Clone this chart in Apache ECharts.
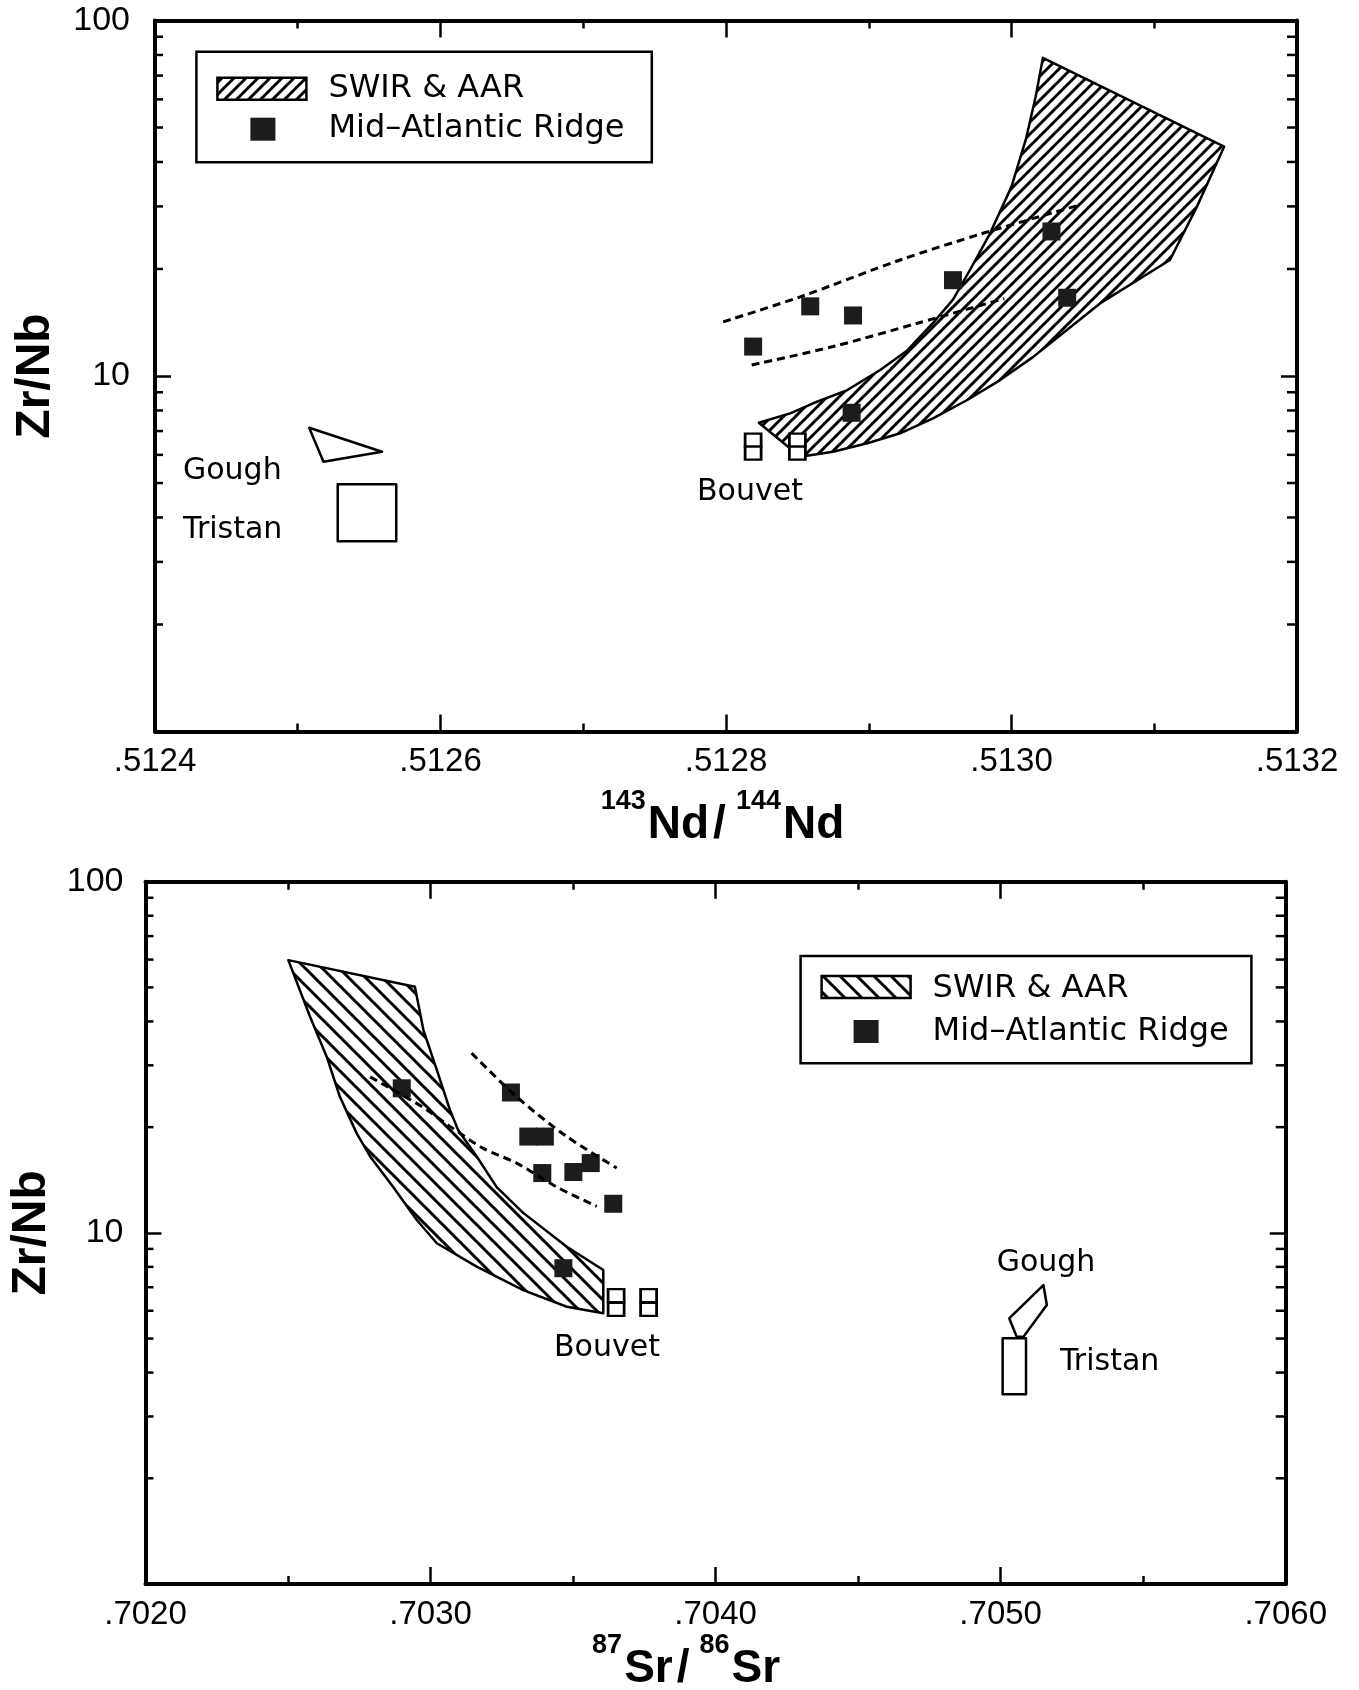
<!DOCTYPE html>
<html>
<head>
<meta charset="utf-8">
<title>Zr/Nb</title>
<script src="https://cdn.jsdelivr.net/npm/echarts/dist/echarts.min.js"></script>
<style>
	html, body { margin: 0; padding: 0; background: #fff; }
	#chart { width: 1359px; height: 1690px; }
</style>
</head>
<body>
<div id="chart"></div>
<script>
// 143Nd/144Nd panel
var ndSwirAar = [
	[.513022, 78.5], [.513017, 61.2], [.513010, 46.2], [.513000, 34.1], [.512985, 25.2], [.512971, 19.9],
	[.512959, 16.4], [.512945, 14.1], [.512927, 11.8], [.512908, 10.4], [.512885, 9.13], [.512861, 8.38],
	[.512845, 7.85], [.512823, 7.39], [.512852, 5.93], [.512875, 6.12], [.512899, 6.47], [.512922, 6.90],
	[.512945, 7.60], [.512969, 8.56], [.512992, 9.74], [.513015, 11.3], [.513039, 13.5], [.513062, 16.0],
	[.513111, 21.2], [.513130, 30.0], [.513149, 44.2]
];
var ndMar = [[.512819, 12.1], [.512859, 15.7], [.512889, 14.8], [.512959, 18.6], [.513028, 25.5], [.513039, 16.6], [.512888, 7.88]];
var ndBouvet = [[.512819, 6.6], [.512819, 6.07], [.512850, 6.6], [.512850, 6.07]];
var ndDashUpper = [[.512798, 14.2], [.512852, 16.7], [.512922, 21.2], [.512980, 25.2], [.513048, 30.3]];
var ndDashLower = [[.512818, 10.74], [.512875, 12.1], [.512934, 14.07], [.512995, 16.5]];
var ndGough = [[.512508, 7.15], [.512559, 6.12], [.512518, 5.74]];
var ndTristan = [[.512528, 4.96], [.512569, 4.96], [.512569, 3.43], [.512528, 3.43]];
var ndLabels = [
	["Gough", .5124196, 5.40],
	["Tristan", .5124196, 3.69],
	["Bouvet", .5127797, 4.72]
];

// 87Sr/86Sr panel
var srSwirAar = [
	[.702501, 59.8], [.702945, 50.2], [.702975, 37.8], [.703022, 29.1], [.703068, 22.4], [.703097, 19.6],
	[.703162, 16.5], [.703232, 13.5], [.703325, 11.4], [.703478, 9.13], [.703606, 7.84], [.703606, 5.90],
	[.703478, 6.16], [.703325, 6.87], [.703162, 8.01], [.703022, 9.34], [.702951, 10.9], [.702869, 13.5],
	[.702788, 16.5], [.702741, 19.2], [.702682, 24.4], [.702636, 31.7], [.702577, 41.3]
];
var srMar = [[.702899, 25.8], [.703282, 25.1], [.703343, 18.8], [.703401, 18.8], [.703392, 14.8], [.703501, 14.9], [.703562, 15.8], [.703641, 12.1], [.703466, 7.93]];
var srBouvet = [[.703651, 6.63], [.703651, 6.05], [.703765, 6.63], [.703765, 6.05]];
var srDashUpper = [[.703144, 32.5], [.703302, 24.4], [.703478, 18.8], [.703653, 15.3]];
var srDashLower = [[.702788, 27.8], [.702969, 22.9], [.703068, 20.1], [.703185, 17.4], [.703302, 15.8], [.703443, 13.5], [.703583, 11.9]];
var srGough = [[.705150, 7.10], [.705162, 6.23], [.705080, 5.06], [.705056, 5.07], [.705030, 5.71]];
var srTristan = [[.705007, 5.01], [.705089, 5.01], [.705089, 3.47], [.705007, 3.47]];
var srLabels = [
	["Bouvet", .703433, 4.70],
	["Gough", .704986, 8.21],
	["Tristan", .705208, 4.29]
];

var ndRange = [.5124, .5132, .0002];
var srRange = [.7020, .7060, .0010];
var logMinor = [2, 3, 4, 5, 6, 7, 8, 9, 20, 30, 40, 50, 60, 70, 80, 90];
var legendNames = ["SWIR & AAR", "Mid\u2013Atlantic Ridge"];

window.onload = function () {

	var font = "Liberation Sans, Arial, Helvetica, sans-serif";
	var textFont = "DejaVu Sans, Liberation Sans, sans-serif";

	function hatch(period, dir, lw) {
		var c = document.createElement("canvas");
		c.width = period;
		c.height = period;
		var ctx = c.getContext("2d");
		ctx.strokeStyle = "#000";
		ctx.lineWidth = lw;
		ctx.beginPath();
		if (dir > 0) {
			ctx.moveTo(-2, period + 2); ctx.lineTo(period + 2, -2);
			ctx.moveTo(-2, 2); ctx.lineTo(2, -2);
			ctx.moveTo(period - 2, period + 2); ctx.lineTo(period + 2, period - 2);
		} else {
			ctx.moveTo(-2, -2); ctx.lineTo(period + 2, period + 2);
			ctx.moveTo(period - 2, -2); ctx.lineTo(period + 2, 2);
			ctx.moveTo(-2, period - 2); ctx.lineTo(2, period + 2);
		}
		ctx.stroke();
		return { image: c, repeat: "repeat" };
	}
	var hatchUp = hatch(12, 1, 3);
	var hatchDown = hatch(17, -1, 3);

	function fmtX(v) {
		return v.toFixed(4).replace(/^0/, "");
	}
	function fmtY(v) {
		var r = Math.round(v);
		return r == 1 ? "" : String(r);
	}

	var line = { color: "#000", width: 4 };

	function xAxis(grid, range, pos, name, gap, pad) {
		var a = {
			gridIndex: grid, type: "value", position: pos,
			min: range[0], max: range[1], interval: range[2],
			axisLine: { show: true, onZero: false, lineStyle: line },
			axisTick: { show: true, inside: true, length: 17, lineStyle: { color: "#000", width: 2.5 } },
			minorTick: { show: true, splitNumber: 2, length: 8, lineStyle: { color: "#000", width: 2.5 } },
			splitLine: { show: false },
			minorSplitLine: { show: false },
			axisLabel: { show: pos == "bottom", margin: 14, fontSize: 33, color: "#000", fontFamily: font, formatter: fmtX }
		};
		if (name) {
			a.name = name;
			a.nameLocation = "middle";
			a.nameGap = gap;
			a.nameTextStyle = {
				color: "#000", fontFamily: font, padding: pad,
				rich: {
					main: { fontSize: 46, fontWeight: "bold", lineHeight: 60, verticalAlign: "bottom", color: "#000", fontFamily: font },
					sl: { fontSize: 46, fontWeight: "bold", lineHeight: 60, verticalAlign: "bottom", color: "#000", fontFamily: font, padding: [0, 10, 0, 4] },
					sup: { fontSize: 27, fontWeight: "bold", lineHeight: 26, verticalAlign: "top", color: "#000", fontFamily: font, padding: [0, 2, 0, 0] }
				}
			};
		}
		return a;
	}

	function yAxis(grid, pos, margin, gap) {
		var a = {
			gridIndex: grid, type: "log", logBase: 10, min: 1, max: 100, position: pos,
			axisLine: { show: true, onZero: false, lineStyle: line },
			axisTick: { show: true, inside: true, length: 16, lineStyle: { color: "#000", width: 2.5 } },
			splitLine: { show: false },
			axisLabel: { show: pos == "left", margin: margin, fontSize: 34, color: "#000", fontFamily: font, formatter: fmtY }
		};
		if (pos == "left") {
			a.name = "Zr/Nb";
			a.nameLocation = "middle";
			a.nameGap = gap;
			a.nameTextStyle = { fontSize: 48, fontWeight: "bold", color: "#000", fontFamily: font };
		}
		return a;
	}

	function polygon(xi, pts, fill) {
		return {
			type: "custom", xAxisIndex: xi, yAxisIndex: xi, silent: true, clip: false,
			data: pts, encode: { x: 0, y: 1 },
			renderItem: function (params, api) {
				if (params.dataIndex !== 0) return;
				var points = pts.map(function (p) { return api.coord(p); });
				return {
					type: "polygon", shape: { points: points },
					style: { fill: fill, stroke: "#000", lineWidth: 2.5, lineJoin: "round" }
				};
			}
		};
	}

	function minorTicks(xi, xmin) {
		return {
			type: "custom", xAxisIndex: xi, yAxisIndex: xi, silent: true, clip: false,
			data: logMinor.map(function (v) { return [xmin, v]; }),
			encode: { x: 0, y: 1 },
			renderItem: function (params, api) {
				var p = api.coord([api.value(0), api.value(1)]);
				var cs = params.coordSys;
				return {
					type: "group", children: [
						{ type: "line", shape: { x1: cs.x, y1: p[1], x2: cs.x + 8, y2: p[1] }, style: { stroke: "#000", lineWidth: 2.5 } },
						{ type: "line", shape: { x1: cs.x + cs.width - 10, y1: p[1], x2: cs.x + cs.width, y2: p[1] }, style: { stroke: "#000", lineWidth: 2.5 } }
					]
				};
			}
		};
	}

	function dashed(xi, pts) {
		return {
			type: "line", xAxisIndex: xi, yAxisIndex: xi, data: pts, symbol: "none", smooth: 0.3, silent: true,
			lineStyle: { color: "#000", width: 3, type: [8, 5] }
		};
	}

	function mar(xi, pts) {
		return {
			type: "scatter", xAxisIndex: xi, yAxisIndex: xi, data: pts, symbol: "rect", symbolSize: 18, silent: true,
			itemStyle: { color: "#1c1c1c", opacity: 1 }
		};
	}

	function bouvet(xi, pts) {
		return {
			type: "scatter", xAxisIndex: xi, yAxisIndex: xi, data: pts, symbol: "rect", symbolSize: [16, 13], silent: true,
			itemStyle: { color: "#fff", borderColor: "#000", borderWidth: 2.5, opacity: 1 }
		};
	}

	function labels(xi, items) {
		return {
			type: "custom", xAxisIndex: xi, yAxisIndex: xi, silent: true, clip: false,
			data: items.map(function (d) { return [d[1], d[2]]; }),
			encode: { x: 0, y: 1 },
			renderItem: function (params, api) {
				var d = items[params.dataIndex];
				var p = api.coord([api.value(0), api.value(1)]);
				return {
					type: "text", x: p[0], y: p[1],
					style: { text: d[0], font: "30px " + textFont, fill: "#000", align: "left", verticalAlign: "middle" }
				};
			}
		};
	}

	function legend(x, y, w, h, fill, sw, rows) {
		return [
			{ type: "rect", shape: { x: x, y: y, width: w, height: h }, style: { fill: "#fff", stroke: "#000", lineWidth: 2.5 }, z: 100 },
			{ type: "rect", shape: { x: x + sw[0], y: y + sw[1], width: 89, height: 22 }, style: { fill: fill, stroke: "#000", lineWidth: 2.5 }, z: 101 },
			{ type: "text", style: { text: legendNames[0], x: x + 132, y: y + rows[0], font: "32px " + textFont, fill: "#000", verticalAlign: "middle" }, z: 101 },
			{ type: "rect", shape: { x: x + sw[2], y: y + sw[3], width: 25, height: 23 }, style: { fill: "#1c1c1c" }, z: 101 },
			{ type: "text", style: { text: legendNames[1], x: x + 132, y: y + rows[1], font: "32px " + textFont, fill: "#000", verticalAlign: "middle" }, z: 101 }
		];
	}

	var chart = echarts.init(document.getElementById("chart"), null, { renderer: "canvas" });

	var option = {
		backgroundColor: "#fff",
		animation: false,
		textStyle: { fontFamily: font },
		grid: [
			{ left: 155, top: 20.5, width: 1142, height: 711, outerBoundsMode: "none", containLabel: false },
			{ left: 145.5, top: 881.7, width: 1140.2, height: 702.3, outerBoundsMode: "none", containLabel: false }
		],
		xAxis: [
			xAxis(0, ndRange, "bottom", "{sup|143}{main|Nd}{sl|/}{sup|144}{main|Nd}", 57, [0, 7, 0, 0]),
			xAxis(0, ndRange, "top"),
			xAxis(1, srRange, "bottom", "{sup|87}{main|Sr}{sl|/}{sup|86}{main|Sr}", 42, [0, 59, 0, 0]),
			xAxis(1, srRange, "top")
		],
		yAxis: [
			yAxis(0, "left", 25, 95),
			yAxis(0, "right"),
			yAxis(1, "left", 22, 87),
			yAxis(1, "right")
		],
		series: [
			minorTicks(0, ndRange[0]),
			polygon(0, ndSwirAar, hatchUp),
			polygon(0, ndGough, "none"),
			polygon(0, ndTristan, "none"),
			dashed(0, ndDashUpper),
			dashed(0, ndDashLower),
			mar(0, ndMar),
			bouvet(0, ndBouvet),
			labels(0, ndLabels),

			minorTicks(2, srRange[0]),
			polygon(2, srSwirAar, hatchDown),
			polygon(2, srGough, "none"),
			polygon(2, srTristan, "none"),
			dashed(2, srDashUpper),
			dashed(2, srDashLower),
			mar(2, srMar),
			bouvet(2, srBouvet),
			labels(2, srLabels)
		],
		graphic: legend(196.4, 51.7, 455.4, 110.6, hatchUp, [21, 26, 54, 66], [37, 77])
			.concat(legend(800.6, 956, 450.8, 107.3, hatchDown, [21, 20, 53, 64], [33, 76]))
	};

	chart.setOption(option);
}
</script>
</body>
</html>
